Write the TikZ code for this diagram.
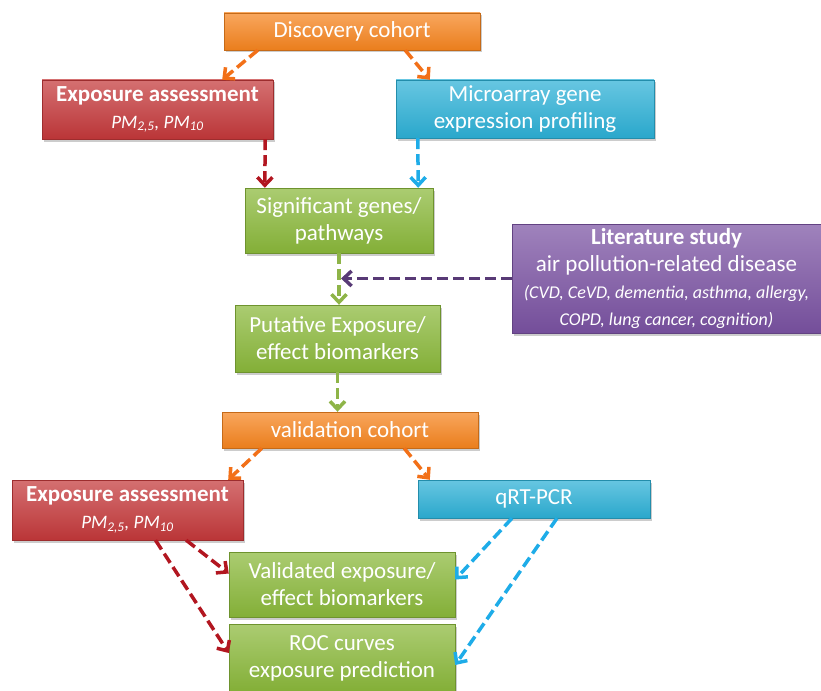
\documentclass[tikz,border=0pt]{standalone}
\usepackage{fontspec}
\setmainfont{Carlito}
\usepackage{xcolor}
\usepackage{tikz}
\usetikzlibrary{arrows.meta, shadows}

\definecolor{cOrange}{RGB}{246,132,30}
\definecolor{cRed}{RGB}{196,56,58}
\definecolor{cBlue}{RGB}{44,176,214}
\definecolor{cGreen}{RGB}{138,184,58}
\definecolor{cPurple}{RGB}{122,82,162}
\definecolor{aOrange}{RGB}{242,112,24}
\definecolor{aRed}{RGB}{178,22,32}
\definecolor{aBlue}{RGB}{30,172,232}
\definecolor{aGreen}{RGB}{142,180,72}
\definecolor{aPurple}{RGB}{88,58,118}

\newcommand{\subtxt}{\fontsize{19}{23}\selectfont\itshape}
\newcommand{\littxt}{\fontsize{18}{22}\selectfont\itshape}

\begin{document}
\begin{tikzpicture}[x=1pt, y=-1pt, >={Straight Barb[length=8pt,width=15pt]},
    box/.style={rectangle, draw=#1!80!black, line width=0.4pt,
        top color=#1!72!white, bottom color=#1!95!black, text=white, align=center,
        inner sep=2pt, font=\fontsize{23}{27}\selectfont,
        drop shadow={shadow xshift=2pt, shadow yshift=-2.5pt, opacity=0.4}},
    link/.style={->, line width=3.5pt, dash pattern=on 11pt off 5pt, draw=#1}]
    \useasboundingbox (0,0) rectangle (821,690);

    % Vẽ các khối
    \node[box=cOrange, minimum width=256pt, minimum height=37pt] (disc) at (352,31.5) {Discovery cohort};
    \node[box=cRed, minimum width=231pt, minimum height=59pt] (expoA) at (157.5,109.5)
        {\textbf{Exposure assessment}\\ {\subtxt PM\textsubscript{2,5}, PM\textsubscript{10}}};
    \node[box=cBlue, minimum width=258pt, minimum height=58pt] (micro) at (525,109) {Microarray gene\\ expression profiling};
    \node[box=cGreen, minimum width=188pt, minimum height=65pt] (sig) at (339,220.5) {Significant genes/\\ pathways};
    \node[box=cPurple, minimum width=309pt, minimum height=109pt] (lit) at (666.5,278.5)
        {\textbf{Literature study}\\ air pollution-related disease\\
         {\littxt (CVD, CeVD, dementia, asthma, allergy,}\\ {\littxt COPD, lung cancer, cognition)}};
    \node[box=cGreen, minimum width=205pt, minimum height=67pt] (puta) at (337.5,338.5) {Putative Exposure/\\ effect biomarkers};
    \node[box=cOrange, minimum width=256pt, minimum height=36pt] (valid) at (350,430) {validation cohort};
    \node[box=cRed, minimum width=231pt, minimum height=60pt] (expoB) at (127.5,510)
        {\textbf{Exposure assessment}\\ {\subtxt PM\textsubscript{2,5}, PM\textsubscript{10}}};
    \node[box=cBlue, minimum width=232pt, minimum height=38pt] (qrt) at (534,499) {qRT-PCR};
    \node[box=cGreen, minimum width=226pt, minimum height=65pt] (vbio) at (342,584.5) {Validated exposure/\\ effect biomarkers};
    \node[box=cGreen, minimum width=226pt, minimum height=67pt] (roc) at (342,658) {ROC curves\\ exposure prediction};

    % Mũi tên
    \draw[link=aOrange] ([xshift=34pt]disc.south west) -- ([xshift=-51pt]expoA.north east);
    \draw[link=aOrange] ([xshift=-75pt]disc.south east) -- ([xshift=34pt]micro.north west);
    \draw[link=aRed] ([xshift=-8pt]expoA.south east) -- ([xshift=20pt]sig.north west);
    \draw[link=aBlue] ([xshift=22pt]micro.south west) -- ([xshift=-15pt]sig.north east);
    \draw[link=aGreen] (sig.south) -- (sig.south |- puta.north);
    \draw[link=aPurple] (lit.west) -- ([xshift=2pt]lit.west -| sig.south);
    \draw[link=aGreen] (puta.south) -- (puta.south |- valid.north);
    \draw[link=aOrange] ([xshift=40pt]valid.south west) -- ([xshift=-15pt]expoB.north east);
    \draw[link=aOrange] ([xshift=-74pt]valid.south east) -- ([xshift=12pt]qrt.north west);
    \draw[link=aRed] ([xshift=-57pt]expoB.south east) -- ([yshift=11pt]vbio.west);
    \draw[link=aRed] ([xshift=28pt]expoB.south) -- ([yshift=5pt]roc.west);
    \draw[link=aBlue] ([xshift=-22pt]qrt.south) -- ([yshift=5pt]vbio.east);
    \draw[link=aBlue] ([xshift=23pt]qrt.south) -- ([yshift=-7pt]roc.east);
\end{tikzpicture}
\end{document}
